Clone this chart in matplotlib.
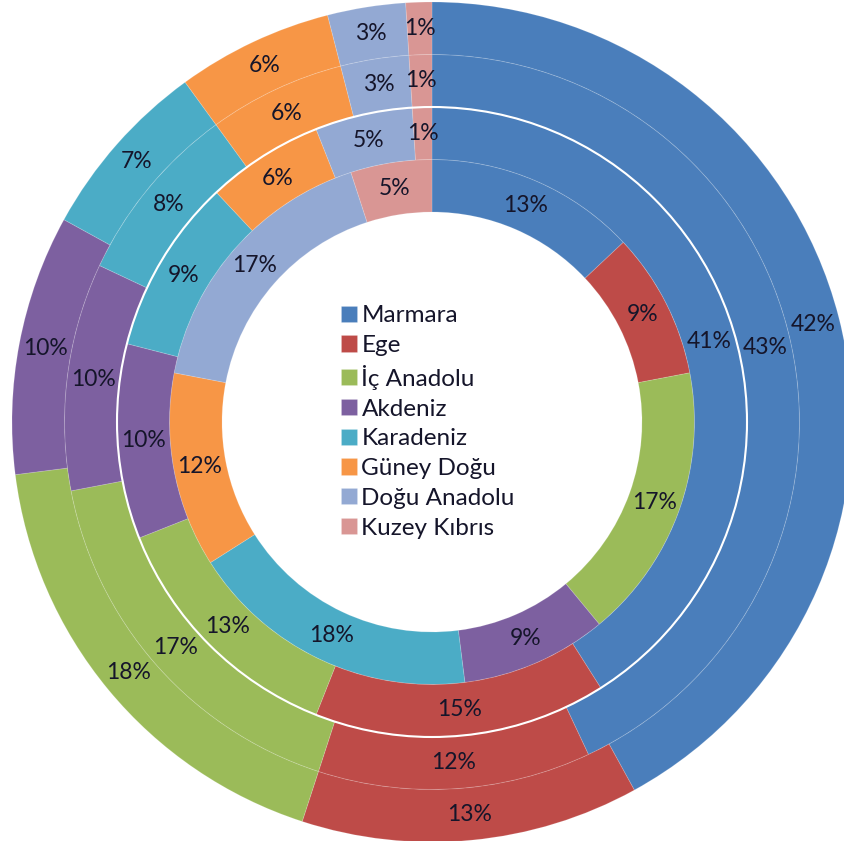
import matplotlib

matplotlib.use("Agg")
import matplotlib.pyplot as plt
from matplotlib.patches import Circle

plt.rcParams["font.family"] = ["Lato", "DejaVu Sans"]

regions = [
    "Marmara",
    "Ege",
    "İç Anadolu",
    "Akdeniz",
    "Karadeniz",
    "Güney Doğu",
    "Doğu Anadolu",
    "Kuzey Kıbrıs",
]
colors = [
    "#4a7ebb",
    "#be4b48",
    "#9bbb59",
    "#7d60a0",
    "#4bacc6",
    "#f79646",
    "#93a9d3",
    "#d99694",
]

# one ring per series, innermost first
ring1 = [13, 9, 17, 9, 18, 12, 17, 5]
ring2 = [41, 15, 13, 10, 9, 6, 5, 1]
ring3 = [43, 12, 17, 10, 8, 6, 3, 1]
ring4 = [42, 13, 18, 10, 7, 6, 3, 1]
rings = [ring1, ring2, ring3, ring4]

HOLE = 0.5
WIDTH = 0.125
TEXT = "#15152a"

fig = plt.figure(figsize=(8.45, 8.41), dpi=100)
ax = fig.add_axes([12 / 845, -1 / 841, 840 / 845, 840 / 841])

first = None
for k, vals in enumerate(rings):
    r_out = HOLE + WIDTH * (k + 1)
    r_mid = r_out - WIDTH / 2
    wedges, _, autotexts = ax.pie(
        vals,
        radius=r_out,
        colors=colors,
        startangle=90,
        counterclock=False,
        autopct=lambda p: f"{round(p)}%",
        pctdistance=r_mid / r_out,
        wedgeprops=dict(width=WIDTH, edgecolor=(1, 1, 1, 0.15), linewidth=0.7),
        textprops=dict(fontsize=16.5, color=TEXT),
    )
    if first is None:
        first = wedges

# the clear white ring between series 2 and 3
ax.add_patch(Circle((0, 0), HOLE + 2 * WIDTH, fill=False, edgecolor="white", linewidth=1.5))

ax.legend(
    first,
    regions,
    loc="center",
    bbox_to_anchor=(0.495, 0.5),
    frameon=False,
    fontsize=17.5,
    handlelength=0.65,
    handleheight=0.65,
    handletextpad=0.2,
    labelspacing=0.36,
    labelcolor=TEXT,
)

ax.set_xlim(-1, 1)
ax.set_ylim(-1, 1)
ax.set_aspect("equal")
ax.axis("off")

fig.savefig("out.png", dpi=100)
